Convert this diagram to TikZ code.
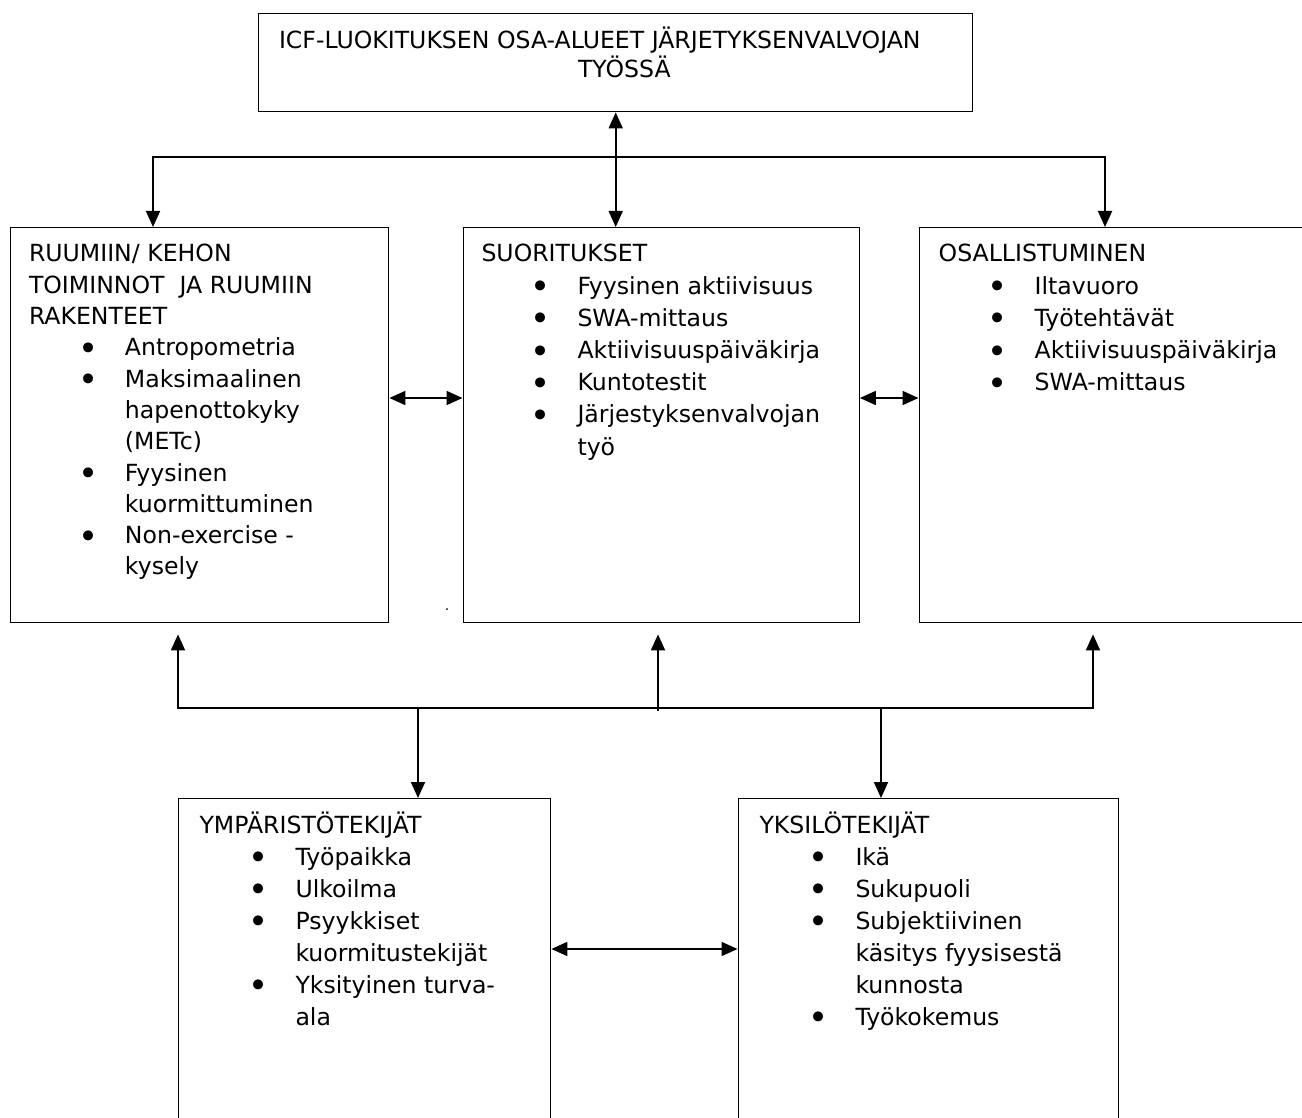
\documentclass[tikz,border=0pt]{standalone}
\usepackage{fontspec}
\setmainfont{DejaVu Sans}
\usetikzlibrary{arrows.meta}
\newcommand\bulitem[1]{\hspace*{49pt}\makebox[47pt][l]{\raisebox{-4.5pt}{\fontsize{34}{34}\selectfont\char"2022}}#1}
\newcommand\contitem[1]{\hspace*{96pt}#1}
\newcommand\boxfont[1]{\fontsize{23.6}{#1}\selectfont\spaceskip=0pt\xspaceskip=0pt\relax}
\tikzset{
  box/.style={draw, line width=1.4pt, inner sep=0pt, anchor=north west},
  txt/.style={anchor=base west, inner sep=0pt, outer sep=0pt, text width=#1, align=left},
  conn/.style={line width=1.8pt},
  arr/.style={conn, -{Triangle[length=16pt,width=14pt]}},
  arr2/.style={conn, {Triangle[length=16pt,width=14pt]}-{Triangle[length=16pt,width=14pt]}},
}
\begin{document}
\begin{tikzpicture}[x=1pt,y=-1pt]
\useasboundingbox (0,0) rectangle (1302,1118);
\fill[white] (0,0) rectangle (1302,1118);
\clip (0,0) rectangle (1302,1118);
% boxes
\node[box, minimum width=714pt, minimum height=98pt] (top) at (258,13) {};
\node[box, minimum width=378pt, minimum height=395pt] (L) at (10,227) {};
\node[box, minimum width=396pt, minimum height=395pt] (M) at (462.5,227) {};
\node[box, minimum width=420pt, minimum height=395pt] (R) at (918.5,227) {};
\node[box, minimum width=372pt, minimum height=360pt] (BL) at (178,798) {};
\node[box, minimum width=380.5pt, minimum height=360pt] (BR) at (737.5,798) {};
% texts
\node[txt=700pt] (topt) at (279,49) {\boxfont{29}ICF-LUOKITUKSEN OSA-ALUEET JÄRJETYKSENVALVOJAN\\\hspace*{299pt}TYÖSSÄ\par};
\node[txt=360pt] (Lt) at (29,262) {\boxfont{31.3}RUUMIIN/ KEHON\\TOIMINNOT\ \ JA RUUMIIN\\RAKENTEET\\\bulitem{Antropometria}\\\bulitem{Maksimaalinen}\\\contitem{hapenottokyky}\\\contitem{(METc)}\\\bulitem{Fyysinen}\\\contitem{kuormittuminen}\\\bulitem{Non-exercise -}\\\contitem{kysely}\par};
\node[txt=380pt] (Mt) at (481.5,262) {\boxfont{32.2}SUORITUKSET\\\bulitem{Fyysinen aktiivisuus}\\\bulitem{SWA-mittaus}\\\bulitem{Aktiivisuuspäiväkirja}\\\bulitem{Kuntotestit}\\\bulitem{Järjestyksenvalvojan}\\\contitem{työ}\par};
\node[txt=360pt] (Rt) at (938.7,262) {\boxfont{32.25}OSALLISTUMINEN\\\bulitem{Iltavuoro}\\\bulitem{Työtehtävät}\\\bulitem{Aktiivisuuspäiväkirja}\\\bulitem{SWA-mittaus}\par};
\node[txt=360pt] (BLt) at (199.5,833) {\boxfont{32}YMPÄRISTÖTEKIJÄT\\\bulitem{Työpaikka}\\\bulitem{Ulkoilma}\\\bulitem{Psyykkiset}\\\contitem{kuormitustekijät}\\\bulitem{Yksityinen turva-}\\\contitem{ala}\par};
\node[txt=360pt] (BRt) at (759.5,833) {\boxfont{32}YKSILÖTEKIJÄT\\\bulitem{Ikä}\\\bulitem{Sukupuoli}\\\bulitem{Subjektiivinen}\\\contitem{käsitys fyysisestä}\\\contitem{kunnosta}\\\bulitem{Työkokemus}\par};
\node[anchor=base, inner sep=0pt, font=\fontsize{14}{14}\selectfont] (dot) at (447,610) {.};
% top connectors
\coordinate (hl) at (153,157);
\coordinate (hr) at (1105,157);
\draw[arr] (hr) -- (hl) -- (hl |- L.north);
\draw[arr] (hl) -- (hr) -- (hr |- R.north);
\draw[arr2] (top.south) -- (top.south |- M.north);
% side connectors
\coordinate (a1) at (0,398);
\draw[arr2] (L.east |- a1) -- (M.west |- a1);
\draw[arr2] (M.east |- a1) -- (R.west |- a1);
% bottom connectors
\coordinate (bh1) at (178,708);
\coordinate (bh2) at (1093,708);
\coordinate (bm) at (658,711);
\draw[arr, shorten >=11pt] (bh2) -- (bh1) -- (bh1 |- L.south);
\draw[arr, shorten >=11pt] (bh1) -- (bh2) -- (bh2 |- R.south);
\draw[arr, shorten >=11pt] (bm) -- (bm |- M.south);
\coordinate (bd1) at (418,708);
\coordinate (bd2) at (881,708);
\draw[arr] (bd1) -- (bd1 |- BL.north);
\draw[arr] (bd2) -- (bd2 |- BR.north);
\coordinate (ab) at (0,949);
\draw[arr2] (BL.east |- ab) -- (BR.west |- ab);
\end{tikzpicture}
\end{document}
